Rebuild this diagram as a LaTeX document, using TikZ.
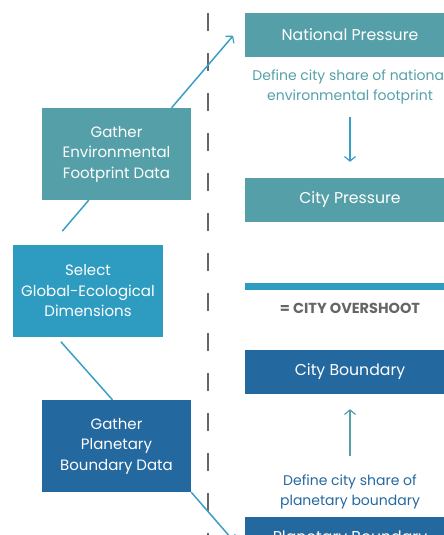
\documentclass[tikz,border=0pt]{standalone}
\usepackage{fontspec}
\setmainfont{Poppins}
\usetikzlibrary{arrows.meta}
\definecolor{tealbox}{HTML}{55A0A8}
\definecolor{lightblue}{HTML}{2E9BC0}
\definecolor{darkblue}{HTML}{2468A0}
\definecolor{linkblue}{HTML}{3A9FC4}
\definecolor{dashgray}{HTML}{666666}

\begin{document}
\begin{tikzpicture}[x=1pt, y=-1pt,
    box/.style={rectangle, text=white, inner sep=0pt, align=center,
      font=\fontsize{15}{20.5}\selectfont},
    leftbox/.style={box, minimum width=149pt, minimum height=92pt},
    rightbox/.style={box, minimum width=210pt, minimum height=44pt,
      font=\fontsize{15.7}{18}\selectfont},
    note/.style={align=center, inner sep=0pt, font=\fontsize{14}{20}\selectfont},
    link/.style={linkblue, line width=1.5pt},
    tip/.style={-{Straight Barb[length=4.5pt,width=11pt,line width=1.2pt]}},
    >=Straight Barb]
    \clip (0,0) rectangle (444,535);
    \useasboundingbox (0,0) rectangle (444,535);
    \draw[dashgray, line width=1.2pt, dash pattern=on 18pt off 22pt] (208,13) -- (208,540);
    \node[leftbox, fill=tealbox] (envdata) at (116.5,154) {Gather\\Environmental\\Footprint Data};
    \node[leftbox, fill=lightblue, minimum width=150pt] (select) at (88,291) {Select\\Global-Ecological\\Dimensions};
    \node[leftbox, fill=darkblue] (planetdata) at (116.5,446) {Gather\\Planetary\\Boundary Data};
    \node[rightbox, fill=tealbox] (natpress) at (350,35) {National Pressure};
    \node[note, text=tealbox] (natshare) at (350,87) {Define city share of national\\environmental footprint};
    \node[rightbox, fill=tealbox] (citypress) at (350,200) {City Pressure};
    \node[fill=lightblue, minimum width=215pt, minimum height=7pt, inner sep=0pt] (bar) at (352.5,286.5) {};
    \node[text=dashgray, font=\fontsize{14.5}{16}\selectfont\bfseries] (overshoot) at (350,308) {= CITY OVERSHOOT};
    \node[rightbox, fill=darkblue] (cityboundary) at (350,372) {City Boundary};
    \node[note, text=darkblue] (planetshare) at (350,492) {Define city share of\\planetary boundary};
    \node[rightbox, fill=darkblue] (planetboundary) at (350,539) {Planetary Boundary};
    \draw[link, shorten <=18pt] (select.129.6) -- (envdata.239.1);
    \draw[link, tip, shorten >=18pt] (envdata.40.7) -- (natpress.173.7);
    \draw[link, shorten <=6pt] (select.236.6) -- (planetdata.95.6);
    \draw[link, tip, shorten >=16pt] (planetdata.south east) -- (planetboundary.188.7);
    \draw[link, tip, shorten <=13pt, shorten >=16pt] (natshare) -- (citypress);
    \draw[tealbox, line width=1.5pt, tip, shorten <=19pt, shorten >=15pt] (planetshare) -- (cityboundary);
\end{tikzpicture}
\end{document}
